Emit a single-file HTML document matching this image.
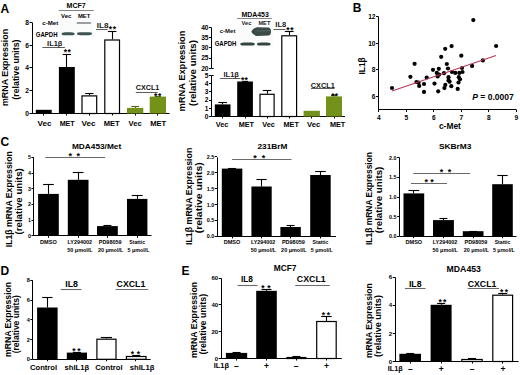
<!DOCTYPE html><html><head><meta charset="utf-8"><style>html,body{margin:0;padding:0;background:#fff;}svg{display:block;}text{font-family:"Liberation Sans", sans-serif;}</style></head><body>
<svg width="520" height="375" viewBox="0 0 520 375">
<rect width="520" height="375" fill="#fff"/>
<text x="0.6" y="12.5" font-size="12" text-anchor="start" font-weight="bold" fill="#000">A</text>
<text x="0" y="0" transform="translate(7.8 67.45) rotate(-90)" font-size="8.7" text-anchor="middle" font-weight="bold" fill="#000" textLength="77.31" lengthAdjust="spacingAndGlyphs">mRNA Expression</text>
<text x="0" y="0" transform="translate(18.6 69.6) rotate(-90)" font-size="8.7" text-anchor="middle" font-weight="bold" fill="#000" textLength="60.21" lengthAdjust="spacingAndGlyphs">(relative units)</text>
<line x1="32.5" y1="22.4" x2="32.5" y2="113.5" stroke="#000" stroke-width="1.0"/>
<line x1="29.5" y1="113.5" x2="32" y2="113.5" stroke="#000" stroke-width="1.0"/>
<text x="28.9" y="115.876" font-size="6.6" text-anchor="end" font-weight="bold" fill="#000">0</text>
<line x1="29.5" y1="90.5" x2="32" y2="90.5" stroke="#000" stroke-width="1.0"/>
<text x="28.9" y="93.096" font-size="6.6" text-anchor="end" font-weight="bold" fill="#000">2</text>
<line x1="29.5" y1="67.5" x2="32" y2="67.5" stroke="#000" stroke-width="1.0"/>
<text x="28.9" y="70.316" font-size="6.6" text-anchor="end" font-weight="bold" fill="#000">4</text>
<line x1="29.5" y1="45.5" x2="32" y2="45.5" stroke="#000" stroke-width="1.0"/>
<text x="28.9" y="47.535999999999994" font-size="6.6" text-anchor="end" font-weight="bold" fill="#000">6</text>
<line x1="29.5" y1="22.5" x2="32" y2="22.5" stroke="#000" stroke-width="1.0"/>
<text x="28.9" y="24.755999999999997" font-size="6.6" text-anchor="end" font-weight="bold" fill="#000">8</text>
<line x1="32" y1="113.5" x2="169.5" y2="113.5" stroke="#000" stroke-width="1.0"/>
<line x1="43.5" y1="113.5" x2="43.5" y2="115.5" stroke="#000" stroke-width="1.0"/>
<line x1="66.5" y1="113.5" x2="66.5" y2="115.5" stroke="#000" stroke-width="1.0"/>
<line x1="89.5" y1="113.5" x2="89.5" y2="115.5" stroke="#000" stroke-width="1.0"/>
<line x1="112.5" y1="113.5" x2="112.5" y2="115.5" stroke="#000" stroke-width="1.0"/>
<line x1="135.5" y1="113.5" x2="135.5" y2="115.5" stroke="#000" stroke-width="1.0"/>
<line x1="157.5" y1="113.5" x2="157.5" y2="115.5" stroke="#000" stroke-width="1.0"/>
<rect x="35.8" y="109.8" width="15.900000000000006" height="3.700000000000003" fill="#000"/>
<line x1="66.5" y1="54.0" x2="66.5" y2="67.0" stroke="#000" stroke-width="1.1"/>
<line x1="62.64999999999999" y1="54.5" x2="71.05" y2="54.5" stroke="#000" stroke-width="1.1"/>
<rect x="58.9" y="67.0" width="15.899999999999999" height="46.5" fill="#000"/>
<line x1="89.5" y1="93.0" x2="89.5" y2="95.3" stroke="#000" stroke-width="1.1"/>
<line x1="85.14999999999999" y1="93.5" x2="93.55" y2="93.5" stroke="#000" stroke-width="1.1"/>
<rect x="82.0" y="95.89999999999999" width="14.699999999999992" height="17.6" fill="#fff" stroke="#000" stroke-width="1.2"/>
<line x1="112.5" y1="31.2" x2="112.5" y2="39.4" stroke="#000" stroke-width="1.1"/>
<line x1="107.9" y1="31.5" x2="116.4" y2="31.5" stroke="#000" stroke-width="1.1"/>
<rect x="104.8" y="40.0" width="14.699999999999992" height="73.5" fill="#fff" stroke="#000" stroke-width="1.2"/>
<line x1="135.5" y1="106.6" x2="135.5" y2="107.9" stroke="#4f6418" stroke-width="1.1"/>
<line x1="131.25" y1="106.5" x2="139.05" y2="106.5" stroke="#4f6418" stroke-width="1.1"/>
<rect x="127.0" y="107.9" width="16.30000000000001" height="5.599999999999994" fill="#74921a"/>
<line x1="157.5" y1="96.0" x2="157.5" y2="96.6" stroke="#4f6418" stroke-width="1.1"/>
<line x1="154.85" y1="96.5" x2="160.85" y2="96.5" stroke="#4f6418" stroke-width="1.1"/>
<rect x="149.7" y="96.6" width="16.30000000000001" height="16.900000000000006" fill="#74921a"/>
<text x="44.55" y="125.6" font-size="7.5" text-anchor="middle" font-weight="bold" fill="#000" textLength="14.03" lengthAdjust="spacingAndGlyphs">Vec</text>
<text x="67.15" y="125.6" font-size="7.5" text-anchor="middle" font-weight="bold" fill="#000" textLength="15.03" lengthAdjust="spacingAndGlyphs">MET</text>
<text x="88.55" y="125.6" font-size="7.5" text-anchor="middle" font-weight="bold" fill="#000" textLength="14.03" lengthAdjust="spacingAndGlyphs">Vec</text>
<text x="111.75" y="125.6" font-size="7.5" text-anchor="middle" font-weight="bold" fill="#000" textLength="16.02" lengthAdjust="spacingAndGlyphs">MET</text>
<text x="135.2" y="125.6" font-size="7.5" text-anchor="middle" font-weight="bold" fill="#000" textLength="13.12" lengthAdjust="spacingAndGlyphs">Vec</text>
<text x="158.25" y="125.6" font-size="7.5" text-anchor="middle" font-weight="bold" fill="#000" textLength="16.02" lengthAdjust="spacingAndGlyphs">MET</text>
<rect x="59.5" y="19.3" width="34.5" height="17.6" fill="#fafbfb"/>
<rect x="76.6" y="22.3" width="14.6" height="1.5" rx="0.7" fill="#7a8483"/>
<rect x="61.6" y="32.2" width="13" height="3" rx="3.5" ry="1.5" fill="#3c5350"/>
<rect x="77.0" y="32.25" width="15" height="2.9" rx="3.5" ry="1.45" fill="#3c5350"/>
<text x="76.1" y="8.0" font-size="6.9" text-anchor="middle" font-weight="bold" fill="#000" textLength="19.08" lengthAdjust="spacingAndGlyphs">MCF7</text>
<line x1="58.7" y1="10.5" x2="93.8" y2="10.5" stroke="#777" stroke-width="0.9"/>
<text x="66.25" y="17.5" font-size="6.1" text-anchor="middle" font-weight="bold" fill="#000" textLength="10.33" lengthAdjust="spacingAndGlyphs">Vec</text>
<text x="84.15" y="17.5" font-size="6.1" text-anchor="middle" font-weight="bold" fill="#000" textLength="12.53" lengthAdjust="spacingAndGlyphs">MET</text>
<text x="50.25" y="24.9" font-size="6.0" text-anchor="middle" font-weight="bold" fill="#000" textLength="15.92" lengthAdjust="spacingAndGlyphs">c-Met</text>
<text x="46.65" y="36.7" font-size="6.5" text-anchor="middle" font-weight="bold" fill="#000" textLength="21.75" lengthAdjust="spacingAndGlyphs">GAPDH</text>
<text x="54.75" y="46.1" font-size="7.2" text-anchor="middle" font-weight="bold" fill="#222" textLength="15.4" lengthAdjust="spacingAndGlyphs">IL1β</text>
<line x1="42.4" y1="47.5" x2="64.9" y2="47.5" stroke="#333" stroke-width="0.8"/>
<text x="65.4" y="54.75" font-size="8.5" text-anchor="middle" font-weight="bold" fill="#000">*</text>
<text x="69.1" y="54.75" font-size="8.5" text-anchor="middle" font-weight="bold" fill="#000">*</text>
<text x="102.6" y="28.0" font-size="7.5" text-anchor="middle" font-weight="bold" fill="#222" textLength="11.73" lengthAdjust="spacingAndGlyphs">IL8</text>
<line x1="96.0" y1="29.5" x2="107.8" y2="29.5" stroke="#333" stroke-width="0.8"/>
<text x="110.4" y="31.85" font-size="8.5" text-anchor="middle" font-weight="bold" fill="#000">*</text>
<text x="114.5" y="31.85" font-size="8.5" text-anchor="middle" font-weight="bold" fill="#000">*</text>
<text x="147.5" y="90.2" font-size="7.2" text-anchor="middle" font-weight="bold" fill="#111">CXCL1</text>
<line x1="135.8" y1="92.5" x2="157.6" y2="92.5" stroke="#333" stroke-width="0.8"/>
<text x="155.7" y="98.55" font-size="8.5" text-anchor="middle" font-weight="bold" fill="#000">*</text>
<text x="159.6" y="98.55" font-size="8.5" text-anchor="middle" font-weight="bold" fill="#000">*</text>
<text x="0" y="0" transform="translate(185.4 71.05) rotate(-90)" font-size="9.1" text-anchor="middle" font-weight="bold" fill="#000" textLength="81.14" lengthAdjust="spacingAndGlyphs">mRNA Expression</text>
<text x="0" y="0" transform="translate(195.6 73.05) rotate(-90)" font-size="9.1" text-anchor="middle" font-weight="bold" fill="#000" textLength="65.94" lengthAdjust="spacingAndGlyphs">(relative units)</text>
<line x1="211.5" y1="75.4" x2="211.5" y2="116.5" stroke="#000" stroke-width="1.0"/>
<line x1="209.0" y1="116.5" x2="211.5" y2="116.5" stroke="#000" stroke-width="1.0"/>
<text x="208.5" y="118.8" font-size="6.6" text-anchor="end" font-weight="bold" fill="#000">0</text>
<line x1="209.0" y1="108.5" x2="211.5" y2="108.5" stroke="#000" stroke-width="1.0"/>
<text x="208.5" y="110.58" font-size="6.6" text-anchor="end" font-weight="bold" fill="#000">1</text>
<line x1="209.0" y1="100.5" x2="211.5" y2="100.5" stroke="#000" stroke-width="1.0"/>
<text x="208.5" y="102.36" font-size="6.6" text-anchor="end" font-weight="bold" fill="#000">2</text>
<line x1="209.0" y1="91.5" x2="211.5" y2="91.5" stroke="#000" stroke-width="1.0"/>
<text x="208.5" y="94.14" font-size="6.6" text-anchor="end" font-weight="bold" fill="#000">3</text>
<line x1="209.0" y1="83.5" x2="211.5" y2="83.5" stroke="#000" stroke-width="1.0"/>
<text x="208.5" y="85.92" font-size="6.6" text-anchor="end" font-weight="bold" fill="#000">4</text>
<line x1="209.0" y1="75.5" x2="211.5" y2="75.5" stroke="#000" stroke-width="1.0"/>
<text x="208.5" y="77.7" font-size="6.6" text-anchor="end" font-weight="bold" fill="#000">5</text>
<line x1="211.5" y1="75.5" x2="213.7" y2="75.5" stroke="#000" stroke-width="1.0"/>
<line x1="211.5" y1="27.5" x2="211.5" y2="68.3" stroke="#000" stroke-width="1.0"/>
<line x1="209.0" y1="68.5" x2="211.5" y2="68.5" stroke="#000" stroke-width="1.0"/>
<text x="208.5" y="70.6" font-size="6.6" text-anchor="end" font-weight="bold" fill="#000">20</text>
<line x1="209.0" y1="58.5" x2="211.5" y2="58.5" stroke="#000" stroke-width="1.0"/>
<text x="208.5" y="60.39999999999999" font-size="6.6" text-anchor="end" font-weight="bold" fill="#000">25</text>
<line x1="209.0" y1="47.5" x2="211.5" y2="47.5" stroke="#000" stroke-width="1.0"/>
<text x="208.5" y="50.199999999999996" font-size="6.6" text-anchor="end" font-weight="bold" fill="#000">30</text>
<line x1="209.0" y1="37.5" x2="211.5" y2="37.5" stroke="#000" stroke-width="1.0"/>
<text x="208.5" y="40.0" font-size="6.6" text-anchor="end" font-weight="bold" fill="#000">35</text>
<line x1="209.0" y1="27.5" x2="211.5" y2="27.5" stroke="#000" stroke-width="1.0"/>
<text x="208.5" y="29.8" font-size="6.6" text-anchor="end" font-weight="bold" fill="#000">40</text>
<line x1="211.5" y1="68.5" x2="213.7" y2="68.5" stroke="#000" stroke-width="1.0"/>
<line x1="211.5" y1="116.5" x2="345" y2="116.5" stroke="#000" stroke-width="1.0"/>
<line x1="222.5" y1="116.5" x2="222.5" y2="118.5" stroke="#000" stroke-width="1.0"/>
<line x1="245.5" y1="116.5" x2="245.5" y2="118.5" stroke="#000" stroke-width="1.0"/>
<line x1="267.5" y1="116.5" x2="267.5" y2="118.5" stroke="#000" stroke-width="1.0"/>
<line x1="289.5" y1="116.5" x2="289.5" y2="118.5" stroke="#000" stroke-width="1.0"/>
<line x1="311.5" y1="116.5" x2="311.5" y2="118.5" stroke="#000" stroke-width="1.0"/>
<line x1="334.5" y1="116.5" x2="334.5" y2="118.5" stroke="#000" stroke-width="1.0"/>
<line x1="222.5" y1="102.5" x2="222.5" y2="104.4" stroke="#000" stroke-width="1.1"/>
<line x1="218.4" y1="102.5" x2="226.9" y2="102.5" stroke="#000" stroke-width="1.1"/>
<rect x="214.8" y="104.4" width="15.699999999999989" height="12.099999999999994" fill="#000"/>
<line x1="245.5" y1="81.0" x2="245.5" y2="81.5" stroke="#000" stroke-width="1.1"/>
<line x1="242.05" y1="81.5" x2="248.05" y2="81.5" stroke="#000" stroke-width="1.1"/>
<rect x="237.2" y="81.5" width="15.700000000000017" height="35.0" fill="#000"/>
<line x1="267.5" y1="90.4" x2="267.5" y2="93.7" stroke="#000" stroke-width="1.1"/>
<line x1="262.79999999999995" y1="90.5" x2="271.29999999999995" y2="90.5" stroke="#000" stroke-width="1.1"/>
<rect x="260.0" y="94.3" width="14.100000000000012" height="22.199999999999996" fill="#fff" stroke="#000" stroke-width="1.2"/>
<line x1="289.5" y1="31.5" x2="289.5" y2="35.2" stroke="#000" stroke-width="1.1"/>
<line x1="284.8" y1="31.5" x2="293.59999999999997" y2="31.5" stroke="#000" stroke-width="1.1"/>
<rect x="281.8" y="35.800000000000004" width="14.8" height="80.7" fill="#fff" stroke="#000" stroke-width="1.2"/>
<rect x="303.6" y="110.8" width="16.299999999999955" height="5.700000000000003" fill="#74921a"/>
<line x1="334.5" y1="95.8" x2="334.5" y2="96.4" stroke="#4f6418" stroke-width="1.1"/>
<line x1="331.0" y1="95.5" x2="337.0" y2="95.5" stroke="#4f6418" stroke-width="1.1"/>
<rect x="326.0" y="96.4" width="16.0" height="20.099999999999994" fill="#74921a"/>
<text x="222.15" y="126.9" font-size="7.5" text-anchor="middle" font-weight="bold" fill="#000" textLength="12.62" lengthAdjust="spacingAndGlyphs">Vec</text>
<text x="246.3" y="126.9" font-size="7.5" text-anchor="middle" font-weight="bold" fill="#000" textLength="15.32" lengthAdjust="spacingAndGlyphs">MET</text>
<text x="268.55" y="126.9" font-size="7.5" text-anchor="middle" font-weight="bold" fill="#000" textLength="12.63" lengthAdjust="spacingAndGlyphs">Vec</text>
<text x="291.15" y="126.9" font-size="7.5" text-anchor="middle" font-weight="bold" fill="#000" textLength="15.43" lengthAdjust="spacingAndGlyphs">MET</text>
<text x="313.7" y="126.9" font-size="7.5" text-anchor="middle" font-weight="bold" fill="#000" textLength="13.33" lengthAdjust="spacingAndGlyphs">Vec</text>
<text x="337.6" y="126.9" font-size="7.5" text-anchor="middle" font-weight="bold" fill="#000" textLength="15.33" lengthAdjust="spacingAndGlyphs">MET</text>
<rect x="238" y="25.5" width="35" height="21.5" fill="#fafbfb"/>
<path d="M251.2 31.8 Q253 28.0 257 27.3 L268.8 27.4 Q271.1 28 271 31.2 Q271.1 35 268.8 35.5 L257 35.9 Q253 35.4 251.2 31.8 Z" fill="#394a47"/>
<line x1="256.5" y1="31.0" x2="270" y2="30.8" stroke="#5d6e6a" stroke-width="0.8"/>
<rect x="240.3" y="42.6" width="14.5" height="3.0" rx="3.5" ry="1.5" fill="#34443f"/>
<rect x="256.9" y="42.4" width="13.7" height="3.2" rx="3.5" ry="1.6" fill="#34443f"/>
<text x="255.15" y="16.6" font-size="6.7" text-anchor="middle" font-weight="bold" fill="#000" textLength="27.37" lengthAdjust="spacingAndGlyphs">MDA453</text>
<line x1="237.1" y1="18.5" x2="271.7" y2="18.5" stroke="#777" stroke-width="0.9"/>
<text x="246.5" y="24.5" font-size="5.6" text-anchor="middle" font-weight="bold" fill="#222" textLength="9.99" lengthAdjust="spacingAndGlyphs">Vec</text>
<text x="264.4" y="24.5" font-size="5.6" text-anchor="middle" font-weight="bold" fill="#222" textLength="11.99" lengthAdjust="spacingAndGlyphs">MET</text>
<text x="227.55" y="32.8" font-size="5.6" text-anchor="middle" font-weight="bold" fill="#111" textLength="15.69" lengthAdjust="spacingAndGlyphs">c-Met</text>
<text x="225.5" y="45.7" font-size="6.4" text-anchor="middle" font-weight="bold" fill="#000" textLength="21.65" lengthAdjust="spacingAndGlyphs">GAPDH</text>
<text x="280.8" y="27.1" font-size="7.5" text-anchor="middle" font-weight="bold" fill="#222" textLength="10.92" lengthAdjust="spacingAndGlyphs">IL8</text>
<line x1="273.5" y1="29.5" x2="285.5" y2="29.5" stroke="#333" stroke-width="0.8"/>
<text x="287.8" y="33.35" font-size="8.5" text-anchor="middle" font-weight="bold" fill="#000">*</text>
<text x="291.8" y="33.35" font-size="8.5" text-anchor="middle" font-weight="bold" fill="#000">*</text>
<text x="231.2" y="77.3" font-size="7.5" text-anchor="middle" font-weight="bold" fill="#222">IL1β</text>
<line x1="220.0" y1="78.5" x2="240.4" y2="78.5" stroke="#333" stroke-width="0.8"/>
<text x="242.6" y="82.55" font-size="8.5" text-anchor="middle" font-weight="bold" fill="#000">*</text>
<text x="246.2" y="82.55" font-size="8.5" text-anchor="middle" font-weight="bold" fill="#000">*</text>
<text x="322.8" y="88.0" font-size="7.3" text-anchor="middle" font-weight="bold" fill="#111">CXCL1</text>
<line x1="311.0" y1="88.5" x2="334.6" y2="88.5" stroke="#333" stroke-width="0.8"/>
<text x="332.8" y="98.55" font-size="8.5" text-anchor="middle" font-weight="bold" fill="#000">*</text>
<text x="336.3" y="98.55" font-size="8.5" text-anchor="middle" font-weight="bold" fill="#000">*</text>
<text x="352.8" y="12.0" font-size="12" text-anchor="start" font-weight="bold" fill="#000">B</text>
<text x="0" y="0" transform="translate(364.7 65.95) rotate(-90)" font-size="8.5" text-anchor="middle" font-weight="bold" fill="#000" textLength="17.29" lengthAdjust="spacingAndGlyphs">IL1β</text>
<line x1="378.5" y1="16.6" x2="378.5" y2="109.8" stroke="#000" stroke-width="1.0"/>
<line x1="376.0" y1="96.5" x2="378.5" y2="96.5" stroke="#000" stroke-width="1.0"/>
<text x="375.5" y="98.7" font-size="6.6" text-anchor="end" font-weight="bold" fill="#000">6</text>
<line x1="376.0" y1="69.5" x2="378.5" y2="69.5" stroke="#000" stroke-width="1.0"/>
<text x="375.5" y="72.10000000000001" font-size="6.6" text-anchor="end" font-weight="bold" fill="#000">8</text>
<line x1="376.0" y1="43.5" x2="378.5" y2="43.5" stroke="#000" stroke-width="1.0"/>
<text x="375.5" y="45.5" font-size="6.6" text-anchor="end" font-weight="bold" fill="#000">10</text>
<line x1="376.0" y1="16.5" x2="378.5" y2="16.5" stroke="#000" stroke-width="1.0"/>
<text x="375.5" y="18.899999999999995" font-size="6.6" text-anchor="end" font-weight="bold" fill="#000">12</text>
<line x1="378.5" y1="109.5" x2="516.5" y2="109.5" stroke="#000" stroke-width="1.0"/>
<line x1="378.5" y1="109.8" x2="378.5" y2="112.0" stroke="#000" stroke-width="1.0"/>
<text x="378.8" y="119.6" font-size="6.6" text-anchor="middle" font-weight="bold" fill="#000">4</text>
<line x1="406.5" y1="109.8" x2="406.5" y2="112.0" stroke="#000" stroke-width="1.0"/>
<text x="406.3" y="119.6" font-size="6.6" text-anchor="middle" font-weight="bold" fill="#000">5</text>
<line x1="433.5" y1="109.8" x2="433.5" y2="112.0" stroke="#000" stroke-width="1.0"/>
<text x="433.8" y="119.6" font-size="6.6" text-anchor="middle" font-weight="bold" fill="#000">6</text>
<line x1="461.5" y1="109.8" x2="461.5" y2="112.0" stroke="#000" stroke-width="1.0"/>
<text x="461.3" y="119.6" font-size="6.6" text-anchor="middle" font-weight="bold" fill="#000">7</text>
<line x1="488.5" y1="109.8" x2="488.5" y2="112.0" stroke="#000" stroke-width="1.0"/>
<text x="488.8" y="119.6" font-size="6.6" text-anchor="middle" font-weight="bold" fill="#000">8</text>
<line x1="516.5" y1="109.8" x2="516.5" y2="112.0" stroke="#000" stroke-width="1.0"/>
<text x="516.3" y="119.6" font-size="6.6" text-anchor="middle" font-weight="bold" fill="#000">9</text>
<text x="449.9" y="128.6" font-size="8.4" text-anchor="middle" font-weight="bold" fill="#000">c-Met</text>
<text x="472.3" y="100.2" font-size="8.5" font-weight="bold"><tspan font-style="italic">P</tspan> = 0.0007</text>
<circle cx="392" cy="88" r="2.1" fill="#000"/>
<circle cx="410.4" cy="76.8" r="2.1" fill="#000"/>
<circle cx="414.6" cy="63.8" r="2.1" fill="#000"/>
<circle cx="416.4" cy="82" r="2.1" fill="#000"/>
<circle cx="418.6" cy="82.6" r="2.1" fill="#000"/>
<circle cx="419.2" cy="85.9" r="2.1" fill="#000"/>
<circle cx="424" cy="84" r="2.1" fill="#000"/>
<circle cx="424" cy="91.9" r="2.1" fill="#000"/>
<circle cx="426.7" cy="77.5" r="2.1" fill="#000"/>
<circle cx="433" cy="69.8" r="2.1" fill="#000"/>
<circle cx="434.5" cy="83.6" r="2.1" fill="#000"/>
<circle cx="436.8" cy="72.9" r="2.1" fill="#000"/>
<circle cx="438.8" cy="68.8" r="2.1" fill="#000"/>
<circle cx="439.2" cy="74.5" r="2.1" fill="#000"/>
<circle cx="437.6" cy="76.5" r="2.1" fill="#000"/>
<circle cx="438.2" cy="91.3" r="2.1" fill="#000"/>
<circle cx="441.2" cy="56.8" r="2.1" fill="#000"/>
<circle cx="444" cy="73.2" r="2.1" fill="#000"/>
<circle cx="445.2" cy="48.8" r="2.1" fill="#000"/>
<circle cx="446.8" cy="64" r="2.1" fill="#000"/>
<circle cx="448" cy="68.5" r="2.1" fill="#000"/>
<circle cx="451.6" cy="46.1" r="2.1" fill="#000"/>
<circle cx="452" cy="72" r="2.1" fill="#000"/>
<circle cx="455.3" cy="72.9" r="2.1" fill="#000"/>
<circle cx="459.3" cy="72.9" r="2.1" fill="#000"/>
<circle cx="462.5" cy="72" r="2.1" fill="#000"/>
<circle cx="462" cy="68" r="2.1" fill="#000"/>
<circle cx="461.3" cy="55.7" r="2.1" fill="#000"/>
<circle cx="448.5" cy="77.2" r="2.1" fill="#000"/>
<circle cx="458.8" cy="77.2" r="2.1" fill="#000"/>
<circle cx="448.5" cy="80.4" r="2.1" fill="#000"/>
<circle cx="449.6" cy="81.7" r="2.1" fill="#000"/>
<circle cx="460" cy="79.3" r="2.1" fill="#000"/>
<circle cx="458.5" cy="82.5" r="2.1" fill="#000"/>
<circle cx="445.3" cy="84.9" r="2.1" fill="#000"/>
<circle cx="444.4" cy="88.1" r="2.1" fill="#000"/>
<circle cx="451.3" cy="86.2" r="2.1" fill="#000"/>
<circle cx="457.7" cy="88.9" r="2.1" fill="#000"/>
<circle cx="473.3" cy="20.1" r="2.1" fill="#000"/>
<circle cx="496.1" cy="46" r="2.1" fill="#000"/>
<circle cx="482.9" cy="60.4" r="2.1" fill="#000"/>
<circle cx="472.1" cy="65.9" r="2.1" fill="#000"/>
<line x1="392" y1="91" x2="496" y2="55.5" stroke="#b8385a" stroke-width="1.2"/>
<text x="0.6" y="145.7" font-size="12" text-anchor="start" font-weight="bold" fill="#000">C</text>
<text x="0" y="0" transform="translate(12.0 199.25) rotate(-90)" font-size="8.8" text-anchor="middle" font-weight="bold" fill="#000" textLength="96.12" lengthAdjust="spacingAndGlyphs">IL1β mRNA Expression</text>
<text x="0" y="0" transform="translate(21.7 201.35) rotate(-90)" font-size="8.8" text-anchor="middle" font-weight="bold" fill="#000" textLength="66.32" lengthAdjust="spacingAndGlyphs">(relative units)</text>
<line x1="33.5" y1="157.3" x2="33.5" y2="235.8" stroke="#000" stroke-width="1.0"/>
<line x1="31.499999999999996" y1="235.5" x2="33.8" y2="235.5" stroke="#000" stroke-width="1.0"/>
<text x="30.999999999999996" y="237.70000000000002" font-size="5.4" text-anchor="end" font-weight="bold" fill="#000">0</text>
<line x1="31.499999999999996" y1="220.5" x2="33.8" y2="220.5" stroke="#000" stroke-width="1.0"/>
<text x="30.999999999999996" y="222.00000000000003" font-size="5.4" text-anchor="end" font-weight="bold" fill="#000">1</text>
<line x1="31.499999999999996" y1="204.5" x2="33.8" y2="204.5" stroke="#000" stroke-width="1.0"/>
<text x="30.999999999999996" y="206.3" font-size="5.4" text-anchor="end" font-weight="bold" fill="#000">2</text>
<line x1="31.499999999999996" y1="188.5" x2="33.8" y2="188.5" stroke="#000" stroke-width="1.0"/>
<text x="30.999999999999996" y="190.60000000000002" font-size="5.4" text-anchor="end" font-weight="bold" fill="#000">3</text>
<line x1="31.499999999999996" y1="173.5" x2="33.8" y2="173.5" stroke="#000" stroke-width="1.0"/>
<text x="30.999999999999996" y="174.9" font-size="5.4" text-anchor="end" font-weight="bold" fill="#000">4</text>
<line x1="31.499999999999996" y1="157.5" x2="33.8" y2="157.5" stroke="#000" stroke-width="1.0"/>
<text x="30.999999999999996" y="159.20000000000002" font-size="5.4" text-anchor="end" font-weight="bold" fill="#000">5</text>
<line x1="33.8" y1="235.5" x2="151.5" y2="235.5" stroke="#000" stroke-width="1.0"/>
<line x1="48.5" y1="235.8" x2="48.5" y2="237.8" stroke="#000" stroke-width="1.0"/>
<line x1="78.5" y1="235.8" x2="78.5" y2="237.8" stroke="#000" stroke-width="1.0"/>
<line x1="107.5" y1="235.8" x2="107.5" y2="237.8" stroke="#000" stroke-width="1.0"/>
<line x1="137.5" y1="235.8" x2="137.5" y2="237.8" stroke="#000" stroke-width="1.0"/>
<line x1="48.5" y1="184.5" x2="48.5" y2="193.9" stroke="#000" stroke-width="1.1"/>
<line x1="43.1" y1="184.5" x2="53.800000000000004" y2="184.5" stroke="#000" stroke-width="1.1"/>
<rect x="38.1" y="193.9" width="20.699999999999996" height="41.900000000000006" fill="#000"/>
<line x1="78.5" y1="172.9" x2="78.5" y2="179.8" stroke="#000" stroke-width="1.1"/>
<line x1="72.80000000000001" y1="172.5" x2="83.5" y2="172.5" stroke="#000" stroke-width="1.1"/>
<rect x="67.8" y="179.8" width="20.700000000000003" height="56.0" fill="#000"/>
<line x1="107.5" y1="225.3" x2="107.5" y2="226.1" stroke="#000" stroke-width="1.1"/>
<line x1="103.4" y1="225.5" x2="111.4" y2="225.5" stroke="#000" stroke-width="1.1"/>
<rect x="97.0" y="226.1" width="20.799999999999997" height="9.700000000000017" fill="#000"/>
<line x1="137.5" y1="195.4" x2="137.5" y2="198.9" stroke="#000" stroke-width="1.1"/>
<line x1="131.75" y1="195.5" x2="142.64999999999998" y2="195.5" stroke="#000" stroke-width="1.1"/>
<rect x="127.0" y="198.9" width="20.400000000000006" height="36.900000000000006" fill="#000"/>
<text x="96.55" y="148.6" font-size="8.1" text-anchor="middle" font-weight="bold" fill="#000" textLength="49.27" lengthAdjust="spacingAndGlyphs">MDA453/Met</text>
<line x1="45.2" y1="157.5" x2="105.1" y2="157.5" stroke="#6a6a6a" stroke-width="1.2"/>
<text x="70.2" y="159.4" font-size="9" text-anchor="middle" font-weight="bold" fill="#000">*</text>
<text x="78.3" y="159.4" font-size="9" text-anchor="middle" font-weight="bold" fill="#000">*</text>
<text x="48.45" y="244.4" font-size="5.3" text-anchor="middle" font-weight="bold" fill="#000" textLength="16.67" lengthAdjust="spacingAndGlyphs">DMSO</text>
<text x="79.75" y="244.4" font-size="5.3" text-anchor="middle" font-weight="bold" fill="#000" textLength="24.47" lengthAdjust="spacingAndGlyphs">LY294002</text>
<text x="79.95" y="251.9" font-size="5.3" text-anchor="middle" font-weight="bold" fill="#000" textLength="25.37" lengthAdjust="spacingAndGlyphs">50 μmol/L</text>
<text x="110.2" y="244.4" font-size="5.3" text-anchor="middle" font-weight="bold" fill="#000" textLength="22.87" lengthAdjust="spacingAndGlyphs">PD98059</text>
<text x="110.6" y="251.9" font-size="5.3" text-anchor="middle" font-weight="bold" fill="#000" textLength="25.37" lengthAdjust="spacingAndGlyphs">20 μmol/L</text>
<text x="137.2" y="244.4" font-size="5.3" text-anchor="middle" font-weight="bold" fill="#000" textLength="15.67" lengthAdjust="spacingAndGlyphs">Stattic</text>
<text x="138.6" y="251.9" font-size="5.3" text-anchor="middle" font-weight="bold" fill="#000" textLength="21.97" lengthAdjust="spacingAndGlyphs">5 μmol/L</text>
<text x="0" y="0" transform="translate(191.7 196.35) rotate(-90)" font-size="8.8" text-anchor="middle" font-weight="bold" fill="#000" textLength="97.32" lengthAdjust="spacingAndGlyphs">IL1β mRNA Expression</text>
<text x="0" y="0" transform="translate(201.5 197.8) rotate(-90)" font-size="8.8" text-anchor="middle" font-weight="bold" fill="#000" textLength="71.02" lengthAdjust="spacingAndGlyphs">(relative units)</text>
<line x1="217.5" y1="157.4" x2="217.5" y2="236.4" stroke="#000" stroke-width="1.0"/>
<line x1="214.7" y1="236.5" x2="217.0" y2="236.5" stroke="#000" stroke-width="1.0"/>
<text x="214.2" y="238.3" font-size="5.4" text-anchor="end" font-weight="bold" fill="#000">0.0</text>
<line x1="214.7" y1="220.5" x2="217.0" y2="220.5" stroke="#000" stroke-width="1.0"/>
<text x="214.2" y="222.4" font-size="5.4" text-anchor="end" font-weight="bold" fill="#000">0.5</text>
<line x1="214.7" y1="204.5" x2="217.0" y2="204.5" stroke="#000" stroke-width="1.0"/>
<text x="214.2" y="206.5" font-size="5.4" text-anchor="end" font-weight="bold" fill="#000">1.0</text>
<line x1="214.7" y1="188.5" x2="217.0" y2="188.5" stroke="#000" stroke-width="1.0"/>
<text x="214.2" y="190.6" font-size="5.4" text-anchor="end" font-weight="bold" fill="#000">1.5</text>
<line x1="214.7" y1="172.5" x2="217.0" y2="172.5" stroke="#000" stroke-width="1.0"/>
<text x="214.2" y="174.70000000000002" font-size="5.4" text-anchor="end" font-weight="bold" fill="#000">2.0</text>
<line x1="214.7" y1="156.5" x2="217.0" y2="156.5" stroke="#000" stroke-width="1.0"/>
<text x="214.2" y="158.8" font-size="5.4" text-anchor="end" font-weight="bold" fill="#000">2.5</text>
<line x1="217.0" y1="236.5" x2="336.0" y2="236.5" stroke="#000" stroke-width="1.0"/>
<line x1="232.5" y1="236.4" x2="232.5" y2="238.4" stroke="#000" stroke-width="1.0"/>
<line x1="261.5" y1="236.4" x2="261.5" y2="238.4" stroke="#000" stroke-width="1.0"/>
<line x1="290.5" y1="236.4" x2="290.5" y2="238.4" stroke="#000" stroke-width="1.0"/>
<line x1="320.5" y1="236.4" x2="320.5" y2="238.4" stroke="#000" stroke-width="1.0"/>
<line x1="232.5" y1="168.3" x2="232.5" y2="168.6" stroke="#000" stroke-width="1.1"/>
<line x1="228.05" y1="168.5" x2="236.05" y2="168.5" stroke="#000" stroke-width="1.1"/>
<rect x="221.8" y="168.6" width="20.5" height="67.80000000000001" fill="#000"/>
<line x1="261.5" y1="179.8" x2="261.5" y2="186.5" stroke="#000" stroke-width="1.1"/>
<line x1="256.45" y1="179.5" x2="266.65000000000003" y2="179.5" stroke="#000" stroke-width="1.1"/>
<rect x="251.4" y="186.5" width="20.299999999999983" height="49.900000000000006" fill="#000"/>
<line x1="290.5" y1="225.7" x2="290.5" y2="227.0" stroke="#000" stroke-width="1.1"/>
<line x1="286.6" y1="225.5" x2="294.6" y2="225.5" stroke="#000" stroke-width="1.1"/>
<rect x="280.4" y="227.0" width="20.400000000000034" height="9.400000000000006" fill="#000"/>
<line x1="320.5" y1="171.5" x2="320.5" y2="175.0" stroke="#000" stroke-width="1.1"/>
<line x1="315.15" y1="171.5" x2="325.75" y2="171.5" stroke="#000" stroke-width="1.1"/>
<rect x="310.2" y="175.0" width="20.5" height="61.400000000000006" fill="#000"/>
<text x="272.4" y="148.8" font-size="8.1" text-anchor="middle" font-weight="bold" fill="#000" textLength="29.97" lengthAdjust="spacingAndGlyphs">231BrM</text>
<line x1="232.1" y1="159.5" x2="291.5" y2="159.5" stroke="#6a6a6a" stroke-width="1.2"/>
<text x="255.0" y="160.7" font-size="9" text-anchor="middle" font-weight="bold" fill="#000">*</text>
<text x="263.5" y="160.7" font-size="9" text-anchor="middle" font-weight="bold" fill="#000">*</text>
<text x="232.05" y="244.4" font-size="5.3" text-anchor="middle" font-weight="bold" fill="#000" textLength="16.67" lengthAdjust="spacingAndGlyphs">DMSO</text>
<text x="263.15" y="244.4" font-size="5.3" text-anchor="middle" font-weight="bold" fill="#000" textLength="24.47" lengthAdjust="spacingAndGlyphs">LY294002</text>
<text x="263.35" y="251.9" font-size="5.3" text-anchor="middle" font-weight="bold" fill="#000" textLength="25.37" lengthAdjust="spacingAndGlyphs">50 μmol/L</text>
<text x="293.4" y="244.4" font-size="5.3" text-anchor="middle" font-weight="bold" fill="#000" textLength="22.87" lengthAdjust="spacingAndGlyphs">PD98059</text>
<text x="293.8" y="251.9" font-size="5.3" text-anchor="middle" font-weight="bold" fill="#000" textLength="25.37" lengthAdjust="spacingAndGlyphs">20 μmol/L</text>
<text x="320.45" y="244.4" font-size="5.3" text-anchor="middle" font-weight="bold" fill="#000" textLength="15.67" lengthAdjust="spacingAndGlyphs">Stattic</text>
<text x="321.85" y="251.9" font-size="5.3" text-anchor="middle" font-weight="bold" fill="#000" textLength="21.97" lengthAdjust="spacingAndGlyphs">5 μmol/L</text>
<text x="0" y="0" transform="translate(371.6 198.5) rotate(-90)" font-size="8.8" text-anchor="middle" font-weight="bold" fill="#000" textLength="93.02" lengthAdjust="spacingAndGlyphs">IL1β mRNA Expression</text>
<text x="0" y="0" transform="translate(381.6 200.0) rotate(-90)" font-size="8.8" text-anchor="middle" font-weight="bold" fill="#000" textLength="66.62" lengthAdjust="spacingAndGlyphs">(relative units)</text>
<line x1="399.5" y1="157.5" x2="399.5" y2="236.2" stroke="#000" stroke-width="1.0"/>
<line x1="397.09999999999997" y1="236.5" x2="399.4" y2="236.5" stroke="#000" stroke-width="1.0"/>
<text x="396.59999999999997" y="238.1" font-size="5.4" text-anchor="end" font-weight="bold" fill="#000">0.0</text>
<line x1="397.09999999999997" y1="216.5" x2="399.4" y2="216.5" stroke="#000" stroke-width="1.0"/>
<text x="396.59999999999997" y="218.515" font-size="5.4" text-anchor="end" font-weight="bold" fill="#000">0.5</text>
<line x1="397.09999999999997" y1="197.5" x2="399.4" y2="197.5" stroke="#000" stroke-width="1.0"/>
<text x="396.59999999999997" y="198.92999999999998" font-size="5.4" text-anchor="end" font-weight="bold" fill="#000">1.0</text>
<line x1="397.09999999999997" y1="177.5" x2="399.4" y2="177.5" stroke="#000" stroke-width="1.0"/>
<text x="396.59999999999997" y="179.345" font-size="5.4" text-anchor="end" font-weight="bold" fill="#000">1.5</text>
<line x1="397.09999999999997" y1="157.5" x2="399.4" y2="157.5" stroke="#000" stroke-width="1.0"/>
<text x="396.59999999999997" y="159.76" font-size="5.4" text-anchor="end" font-weight="bold" fill="#000">2.0</text>
<line x1="399.4" y1="236.5" x2="516.5" y2="236.5" stroke="#000" stroke-width="1.0"/>
<line x1="413.5" y1="236.2" x2="413.5" y2="238.2" stroke="#000" stroke-width="1.0"/>
<line x1="443.5" y1="236.2" x2="443.5" y2="238.2" stroke="#000" stroke-width="1.0"/>
<line x1="473.5" y1="236.2" x2="473.5" y2="238.2" stroke="#000" stroke-width="1.0"/>
<line x1="502.5" y1="236.2" x2="502.5" y2="238.2" stroke="#000" stroke-width="1.0"/>
<line x1="413.5" y1="190.4" x2="413.5" y2="193.4" stroke="#000" stroke-width="1.1"/>
<line x1="408.5" y1="190.5" x2="419.20000000000005" y2="190.5" stroke="#000" stroke-width="1.1"/>
<rect x="403.5" y="193.4" width="20.69999999999999" height="42.79999999999998" fill="#000"/>
<line x1="443.5" y1="218.5" x2="443.5" y2="220.1" stroke="#000" stroke-width="1.1"/>
<line x1="439.45" y1="218.5" x2="447.45" y2="218.5" stroke="#000" stroke-width="1.1"/>
<rect x="433.0" y="220.1" width="20.899999999999977" height="16.099999999999994" fill="#000"/>
<line x1="473.5" y1="231.0" x2="473.5" y2="231.2" stroke="#000" stroke-width="1.1"/>
<line x1="469.15" y1="231.5" x2="477.15" y2="231.5" stroke="#000" stroke-width="1.1"/>
<rect x="462.8" y="231.2" width="20.69999999999999" height="5.0" fill="#000"/>
<line x1="502.5" y1="175.3" x2="502.5" y2="184.2" stroke="#000" stroke-width="1.1"/>
<line x1="497.3" y1="175.5" x2="507.7" y2="175.5" stroke="#000" stroke-width="1.1"/>
<rect x="492.2" y="184.2" width="20.599999999999966" height="52.0" fill="#000"/>
<text x="455.2" y="148.9" font-size="8.1" text-anchor="middle" font-weight="bold" fill="#000" textLength="32.57" lengthAdjust="spacingAndGlyphs">SKBrM3</text>
<line x1="413.2" y1="173.5" x2="470.2" y2="173.5" stroke="#6a6a6a" stroke-width="1.2"/>
<text x="441.4" y="175.2" font-size="9" text-anchor="middle" font-weight="bold" fill="#000">*</text>
<text x="449.5" y="175.2" font-size="9" text-anchor="middle" font-weight="bold" fill="#000">*</text>
<line x1="411.0" y1="183.5" x2="447.0" y2="183.5" stroke="#6a6a6a" stroke-width="1.2"/>
<text x="426.2" y="184.6" font-size="9" text-anchor="middle" font-weight="bold" fill="#000">*</text>
<text x="431.9" y="184.6" font-size="9" text-anchor="middle" font-weight="bold" fill="#000">*</text>
<text x="413.85" y="244.4" font-size="5.3" text-anchor="middle" font-weight="bold" fill="#000" textLength="16.67" lengthAdjust="spacingAndGlyphs">DMSO</text>
<text x="445.05" y="244.4" font-size="5.3" text-anchor="middle" font-weight="bold" fill="#000" textLength="24.47" lengthAdjust="spacingAndGlyphs">LY294002</text>
<text x="445.25" y="251.9" font-size="5.3" text-anchor="middle" font-weight="bold" fill="#000" textLength="25.37" lengthAdjust="spacingAndGlyphs">50 μmol/L</text>
<text x="475.95" y="244.4" font-size="5.3" text-anchor="middle" font-weight="bold" fill="#000" textLength="22.87" lengthAdjust="spacingAndGlyphs">PD98059</text>
<text x="476.35" y="251.9" font-size="5.3" text-anchor="middle" font-weight="bold" fill="#000" textLength="25.37" lengthAdjust="spacingAndGlyphs">20 μmol/L</text>
<text x="502.5" y="244.4" font-size="5.3" text-anchor="middle" font-weight="bold" fill="#000" textLength="15.67" lengthAdjust="spacingAndGlyphs">Stattic</text>
<text x="503.9" y="251.9" font-size="5.3" text-anchor="middle" font-weight="bold" fill="#000" textLength="21.97" lengthAdjust="spacingAndGlyphs">5 μmol/L</text>
<text x="0.6" y="275.0" font-size="12" text-anchor="start" font-weight="bold" fill="#000">D</text>
<text x="0" y="0" transform="translate(10.8 319.4) rotate(-90)" font-size="8.6" text-anchor="middle" font-weight="bold" fill="#000" textLength="75.0" lengthAdjust="spacingAndGlyphs">mRNA Expression</text>
<text x="0" y="0" transform="translate(18.6 324.2) rotate(-90)" font-size="8.6" text-anchor="middle" font-weight="bold" fill="#000" textLength="58.2" lengthAdjust="spacingAndGlyphs">(relative units)</text>
<line x1="32.5" y1="280.3" x2="32.5" y2="359.3" stroke="#000" stroke-width="1.0"/>
<line x1="30.3" y1="359.5" x2="32.6" y2="359.5" stroke="#000" stroke-width="1.0"/>
<text x="29.8" y="361.3" font-size="5.6" text-anchor="end" font-weight="bold" fill="#000">0</text>
<line x1="30.3" y1="339.5" x2="32.6" y2="339.5" stroke="#000" stroke-width="1.0"/>
<text x="29.8" y="341.55" font-size="5.6" text-anchor="end" font-weight="bold" fill="#000">2</text>
<line x1="30.3" y1="319.5" x2="32.6" y2="319.5" stroke="#000" stroke-width="1.0"/>
<text x="29.8" y="321.8" font-size="5.6" text-anchor="end" font-weight="bold" fill="#000">4</text>
<line x1="30.3" y1="300.5" x2="32.6" y2="300.5" stroke="#000" stroke-width="1.0"/>
<text x="29.8" y="302.05" font-size="5.6" text-anchor="end" font-weight="bold" fill="#000">6</text>
<line x1="30.3" y1="280.5" x2="32.6" y2="280.5" stroke="#000" stroke-width="1.0"/>
<text x="29.8" y="282.3" font-size="5.6" text-anchor="end" font-weight="bold" fill="#000">8</text>
<line x1="32.6" y1="359.5" x2="150.6" y2="359.5" stroke="#000" stroke-width="1.0"/>
<line x1="47.5" y1="359.3" x2="47.5" y2="361.3" stroke="#000" stroke-width="1.0"/>
<line x1="76.5" y1="359.3" x2="76.5" y2="361.3" stroke="#000" stroke-width="1.0"/>
<line x1="106.5" y1="359.3" x2="106.5" y2="361.3" stroke="#000" stroke-width="1.0"/>
<line x1="135.5" y1="359.3" x2="135.5" y2="361.3" stroke="#000" stroke-width="1.0"/>
<line x1="47.5" y1="297.9" x2="47.5" y2="307.5" stroke="#000" stroke-width="1.1"/>
<line x1="42.15" y1="297.5" x2="52.550000000000004" y2="297.5" stroke="#000" stroke-width="1.1"/>
<rect x="37.1" y="307.5" width="20.5" height="51.80000000000001" fill="#000"/>
<line x1="76.5" y1="352.3" x2="76.5" y2="352.6" stroke="#000" stroke-width="1.1"/>
<line x1="72.9" y1="352.5" x2="80.9" y2="352.5" stroke="#000" stroke-width="1.1"/>
<rect x="66.8" y="352.6" width="20.200000000000003" height="6.699999999999989" fill="#000"/>
<line x1="106.5" y1="337.0" x2="106.5" y2="338.6" stroke="#000" stroke-width="1.1"/>
<line x1="100.85" y1="337.5" x2="112.04999999999998" y2="337.5" stroke="#000" stroke-width="1.1"/>
<rect x="96.89999999999999" y="339.20000000000005" width="19.099999999999998" height="20.099999999999987" fill="#fff" stroke="#000" stroke-width="1.2"/>
<line x1="136.5" y1="355.6" x2="136.5" y2="355.9" stroke="#000" stroke-width="1.1"/>
<line x1="132.2" y1="355.5" x2="140.2" y2="355.5" stroke="#000" stroke-width="1.1"/>
<rect x="126.39999999999999" y="356.5" width="19.599999999999998" height="2.800000000000034" fill="#fff" stroke="#000" stroke-width="1.2"/>
<text x="73.9" y="353.65" font-size="8.5" text-anchor="middle" font-weight="bold" fill="#000">*</text>
<text x="78.8" y="353.65" font-size="8.5" text-anchor="middle" font-weight="bold" fill="#000">*</text>
<text x="132.4" y="356.85" font-size="8.5" text-anchor="middle" font-weight="bold" fill="#000">*</text>
<text x="138.3" y="356.85" font-size="8.5" text-anchor="middle" font-weight="bold" fill="#000">*</text>
<text x="71.65" y="286.5" font-size="8.4" text-anchor="middle" font-weight="bold" fill="#000" textLength="12.69" lengthAdjust="spacingAndGlyphs">IL8</text>
<line x1="60.8" y1="289.5" x2="81.5" y2="289.5" stroke="#6a6a6a" stroke-width="1.1"/>
<text x="130.95" y="286.5" font-size="8.5" text-anchor="middle" font-weight="bold" fill="#000" textLength="28.69" lengthAdjust="spacingAndGlyphs">CXCL1</text>
<line x1="115.6" y1="289.5" x2="148.3" y2="289.5" stroke="#6a6a6a" stroke-width="1.1"/>
<text x="43.55" y="369.6" font-size="7.5" text-anchor="middle" font-weight="bold" fill="#000" textLength="27.22" lengthAdjust="spacingAndGlyphs">Control</text>
<text x="76.8" y="369.6" font-size="7.5" text-anchor="middle" font-weight="bold" fill="#000" textLength="24.52" lengthAdjust="spacingAndGlyphs">shIL1β</text>
<text x="108.9" y="369.6" font-size="7.5" text-anchor="middle" font-weight="bold" fill="#000" textLength="27.32" lengthAdjust="spacingAndGlyphs">Control</text>
<text x="142.1" y="369.6" font-size="7.5" text-anchor="middle" font-weight="bold" fill="#000" textLength="24.52" lengthAdjust="spacingAndGlyphs">shIL1β</text>
<text x="181.5" y="274.7" font-size="12" text-anchor="start" font-weight="bold" fill="#000">E</text>
<text x="0" y="0" transform="translate(197.0 320.0) rotate(-90)" font-size="8.7" text-anchor="middle" font-weight="bold" fill="#000" textLength="76.21" lengthAdjust="spacingAndGlyphs">mRNA Expression</text>
<text x="0" y="0" transform="translate(206.0 324.2) rotate(-90)" font-size="8.7" text-anchor="middle" font-weight="bold" fill="#000" textLength="60.61" lengthAdjust="spacingAndGlyphs">(relative units)</text>
<line x1="221.5" y1="278.2" x2="221.5" y2="358.5" stroke="#000" stroke-width="1.0"/>
<line x1="218.7" y1="358.5" x2="221.0" y2="358.5" stroke="#000" stroke-width="1.0"/>
<text x="218.2" y="360.6" font-size="6.0" text-anchor="end" font-weight="bold" fill="#000">0</text>
<line x1="218.7" y1="331.5" x2="221.0" y2="331.5" stroke="#000" stroke-width="1.0"/>
<text x="218.2" y="333.84000000000003" font-size="6.0" text-anchor="end" font-weight="bold" fill="#000">20</text>
<line x1="218.7" y1="304.5" x2="221.0" y2="304.5" stroke="#000" stroke-width="1.0"/>
<text x="218.2" y="307.08000000000004" font-size="6.0" text-anchor="end" font-weight="bold" fill="#000">40</text>
<line x1="218.7" y1="278.5" x2="221.0" y2="278.5" stroke="#000" stroke-width="1.0"/>
<text x="218.2" y="280.32000000000005" font-size="6.0" text-anchor="end" font-weight="bold" fill="#000">60</text>
<line x1="221.0" y1="358.5" x2="341.8" y2="358.5" stroke="#000" stroke-width="1.0"/>
<line x1="236.5" y1="358.5" x2="236.5" y2="360.5" stroke="#000" stroke-width="1.0"/>
<line x1="266.5" y1="358.5" x2="266.5" y2="360.5" stroke="#000" stroke-width="1.0"/>
<line x1="296.5" y1="358.5" x2="296.5" y2="360.5" stroke="#000" stroke-width="1.0"/>
<line x1="326.5" y1="358.5" x2="326.5" y2="360.5" stroke="#000" stroke-width="1.0"/>
<line x1="236.5" y1="352.4" x2="236.5" y2="352.9" stroke="#000" stroke-width="1.1"/>
<line x1="232.55" y1="352.5" x2="240.55" y2="352.5" stroke="#000" stroke-width="1.1"/>
<rect x="225.9" y="352.9" width="21.299999999999983" height="5.600000000000023" fill="#000"/>
<line x1="266.5" y1="289.8" x2="266.5" y2="290.8" stroke="#000" stroke-width="1.1"/>
<line x1="261.5" y1="289.5" x2="271.5" y2="289.5" stroke="#000" stroke-width="1.1"/>
<rect x="256.2" y="290.8" width="20.600000000000023" height="67.69999999999999" fill="#000"/>
<line x1="296.5" y1="356.6" x2="296.5" y2="356.9" stroke="#000" stroke-width="1.1"/>
<line x1="292.4" y1="356.5" x2="300.4" y2="356.5" stroke="#000" stroke-width="1.1"/>
<rect x="287.0" y="357.5" width="18.8" height="1.0000000000000226" fill="#fff" stroke="#000" stroke-width="1.2"/>
<line x1="326.5" y1="316.8" x2="326.5" y2="320.9" stroke="#000" stroke-width="1.1"/>
<line x1="321.20000000000005" y1="316.5" x2="331.70000000000005" y2="316.5" stroke="#000" stroke-width="1.1"/>
<rect x="316.70000000000005" y="321.5" width="19.49999999999999" height="37.00000000000002" fill="#fff" stroke="#000" stroke-width="1.2"/>
<text x="285.1" y="270.6" font-size="8.2" text-anchor="middle" font-weight="bold" fill="#000" textLength="22.77" lengthAdjust="spacingAndGlyphs">MCF7</text>
<text x="247.0" y="282.1" font-size="8.4" text-anchor="middle" font-weight="bold" fill="#000" textLength="11.99" lengthAdjust="spacingAndGlyphs">IL8</text>
<line x1="237.5" y1="285.5" x2="257.5" y2="285.5" stroke="#6a6a6a" stroke-width="1.1"/>
<text x="311.25" y="282.1" font-size="8.5" text-anchor="middle" font-weight="bold" fill="#000" textLength="28.89" lengthAdjust="spacingAndGlyphs">CXCL1</text>
<line x1="295.2" y1="285.5" x2="329.8" y2="285.5" stroke="#6a6a6a" stroke-width="1.1"/>
<text x="263.0" y="291.25" font-size="8.5" text-anchor="middle" font-weight="bold" fill="#000">*</text>
<text x="268.8" y="291.25" font-size="8.5" text-anchor="middle" font-weight="bold" fill="#000">*</text>
<text x="323.4" y="318.15" font-size="8.5" text-anchor="middle" font-weight="bold" fill="#000">*</text>
<text x="328.5" y="318.15" font-size="8.5" text-anchor="middle" font-weight="bold" fill="#000">*</text>
<text x="221.35" y="368.2" font-size="6.8" text-anchor="middle" font-weight="bold" fill="#000" textLength="15.38" lengthAdjust="spacingAndGlyphs">IL1β</text>
<text x="236.4" y="369.09999999999997" font-size="8.5" text-anchor="middle" font-weight="bold" fill="#000">–</text>
<text x="266.4" y="369.09999999999997" font-size="8.5" text-anchor="middle" font-weight="bold" fill="#000">+</text>
<text x="296.2" y="369.09999999999997" font-size="8.5" text-anchor="middle" font-weight="bold" fill="#000">–</text>
<text x="326.4" y="369.09999999999997" font-size="8.5" text-anchor="middle" font-weight="bold" fill="#000">+</text>
<text x="0" y="0" transform="translate(372.0 320.6) rotate(-90)" font-size="8.7" text-anchor="middle" font-weight="bold" fill="#000" textLength="75.01" lengthAdjust="spacingAndGlyphs">mRNA Expression</text>
<text x="0" y="0" transform="translate(381.0 326.0) rotate(-90)" font-size="8.7" text-anchor="middle" font-weight="bold" fill="#000" textLength="61.81" lengthAdjust="spacingAndGlyphs">(relative units)</text>
<line x1="395.5" y1="277.3" x2="395.5" y2="361.5" stroke="#000" stroke-width="1.0"/>
<line x1="392.7" y1="361.5" x2="395.0" y2="361.5" stroke="#000" stroke-width="1.0"/>
<text x="392.2" y="363.6" font-size="6.0" text-anchor="end" font-weight="bold" fill="#000">0</text>
<line x1="392.7" y1="333.5" x2="395.0" y2="333.5" stroke="#000" stroke-width="1.0"/>
<text x="392.2" y="335.54" font-size="6.0" text-anchor="end" font-weight="bold" fill="#000">2</text>
<line x1="392.7" y1="305.5" x2="395.0" y2="305.5" stroke="#000" stroke-width="1.0"/>
<text x="392.2" y="307.48" font-size="6.0" text-anchor="end" font-weight="bold" fill="#000">4</text>
<line x1="392.7" y1="277.5" x2="395.0" y2="277.5" stroke="#000" stroke-width="1.0"/>
<text x="392.2" y="279.42" font-size="6.0" text-anchor="end" font-weight="bold" fill="#000">6</text>
<line x1="395.0" y1="361.5" x2="518.5" y2="361.5" stroke="#000" stroke-width="1.0"/>
<line x1="410.5" y1="361.5" x2="410.5" y2="363.5" stroke="#000" stroke-width="1.0"/>
<line x1="441.5" y1="361.5" x2="441.5" y2="363.5" stroke="#000" stroke-width="1.0"/>
<line x1="472.5" y1="361.5" x2="472.5" y2="363.5" stroke="#000" stroke-width="1.0"/>
<line x1="502.5" y1="361.5" x2="502.5" y2="363.5" stroke="#000" stroke-width="1.0"/>
<line x1="410.5" y1="353.5" x2="410.5" y2="353.8" stroke="#000" stroke-width="1.1"/>
<line x1="406.2" y1="353.5" x2="414.2" y2="353.5" stroke="#000" stroke-width="1.1"/>
<rect x="399.4" y="353.8" width="21.600000000000023" height="7.699999999999989" fill="#000"/>
<line x1="441.5" y1="303.3" x2="441.5" y2="304.8" stroke="#000" stroke-width="1.1"/>
<line x1="437.1" y1="303.5" x2="445.1" y2="303.5" stroke="#000" stroke-width="1.1"/>
<rect x="430.6" y="304.8" width="21.0" height="56.69999999999999" fill="#000"/>
<line x1="472.5" y1="358.5" x2="472.5" y2="358.9" stroke="#000" stroke-width="1.1"/>
<line x1="468.0" y1="358.5" x2="476.0" y2="358.5" stroke="#000" stroke-width="1.1"/>
<rect x="461.8" y="359.5" width="20.400000000000023" height="2.0000000000000226" fill="#fff" stroke="#000" stroke-width="1.2"/>
<line x1="502.5" y1="293.1" x2="502.5" y2="294.6" stroke="#000" stroke-width="1.1"/>
<line x1="498.20000000000005" y1="293.5" x2="507.20000000000005" y2="293.5" stroke="#000" stroke-width="1.1"/>
<rect x="492.8" y="295.20000000000005" width="19.800000000000058" height="66.29999999999998" fill="#fff" stroke="#000" stroke-width="1.2"/>
<text x="463.75" y="271.9" font-size="8.2" text-anchor="middle" font-weight="bold" fill="#000" textLength="34.27" lengthAdjust="spacingAndGlyphs">MDA453</text>
<text x="415.25" y="286.8" font-size="8.4" text-anchor="middle" font-weight="bold" fill="#000" textLength="12.69" lengthAdjust="spacingAndGlyphs">IL8</text>
<line x1="404.9" y1="288.5" x2="425.6" y2="288.5" stroke="#6a6a6a" stroke-width="1.1"/>
<text x="482.05" y="286.5" font-size="8.5" text-anchor="middle" font-weight="bold" fill="#000" textLength="28.49" lengthAdjust="spacingAndGlyphs">CXCL1</text>
<line x1="467.7" y1="288.5" x2="499.2" y2="288.5" stroke="#6a6a6a" stroke-width="1.1"/>
<text x="440.2" y="305.05" font-size="8.5" text-anchor="middle" font-weight="bold" fill="#000">*</text>
<text x="444.6" y="305.05" font-size="8.5" text-anchor="middle" font-weight="bold" fill="#000">*</text>
<text x="501.7" y="294.65" font-size="8.5" text-anchor="middle" font-weight="bold" fill="#000">*</text>
<text x="506.5" y="294.65" font-size="8.5" text-anchor="middle" font-weight="bold" fill="#000">*</text>
<text x="395.15" y="370.8" font-size="6.8" text-anchor="middle" font-weight="bold" fill="#000" textLength="14.98" lengthAdjust="spacingAndGlyphs">IL1β</text>
<text x="410.3" y="371.7" font-size="8.5" text-anchor="middle" font-weight="bold" fill="#000">–</text>
<text x="441.3" y="371.7" font-size="8.5" text-anchor="middle" font-weight="bold" fill="#000">+</text>
<text x="472.0" y="371.7" font-size="8.5" text-anchor="middle" font-weight="bold" fill="#000">–</text>
<text x="502.9" y="371.7" font-size="8.5" text-anchor="middle" font-weight="bold" fill="#000">+</text>
</svg></body></html>
